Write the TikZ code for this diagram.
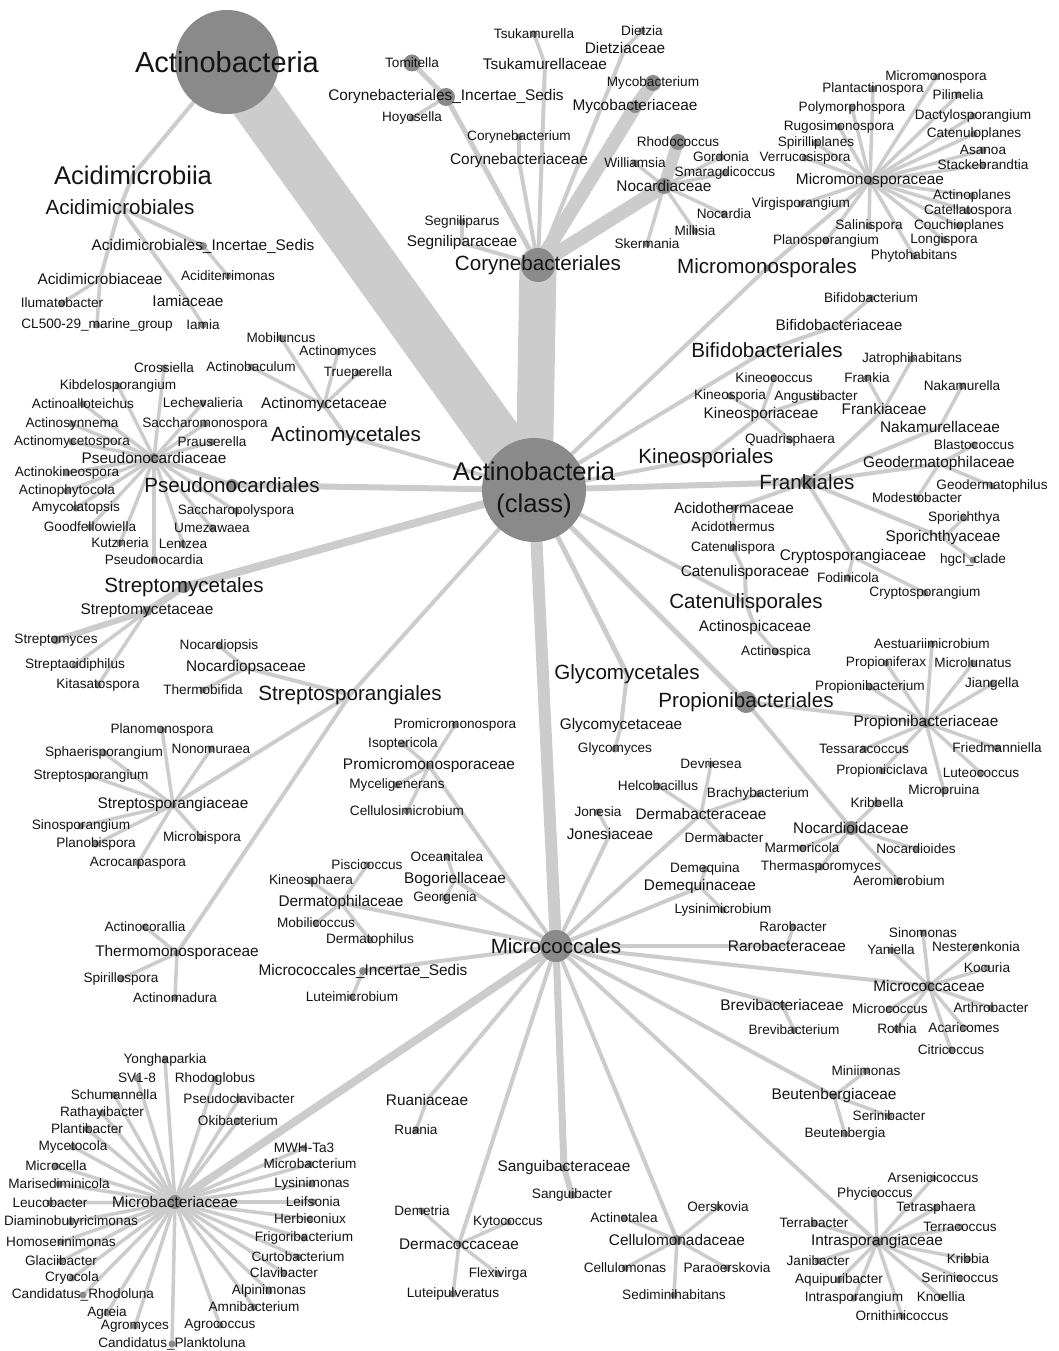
\documentclass[tikz,border=0pt]{standalone}
\usepackage{fontspec}
\setmainfont{Liberation Sans}
\definecolor{edgec}{RGB}{204,204,204}
\definecolor{dotc}{RGB}{138,138,138}
\definecolor{txtc}{RGB}{20,20,20}
\tikzset{
  lab/.style={inner sep=0pt, text=txtc, anchor=center},
  gen/.style={lab, font=\fontsize{13.6}{15}\selectfont},
  fam/.style={lab, font=\fontsize{15.4}{17}\selectfont},
  ord/.style={lab, font=\fontsize{20.6}{23}\selectfont},
  cls/.style={lab, font=\fontsize{25.6}{32.5}\selectfont, align=center},
  phy/.style={lab, font=\fontsize{29}{33}\selectfont},
  conn/.style={draw=edgec, line cap=round},
}
\newcommand\kids[3]{\foreach \k in {#3}{\draw[conn,line width=#1pt] (#2) -- (\k);}}
\newcommand\taxa{%
\txn{Phy}{227}{62}{52}{phy}{Actinobacteria}
\txn{Cls}{534}{490}{52}{cls}{Actinobacteria\\(class)}
\txn{Acdm}{133}{175}{0}{cls}{Acidimicrobiia}
\txn{Acdmales}{120}{207}{0}{ord}{Acidimicrobiales}
\txn{AIS}{203}{246}{4}{fam}{Acidimicrobiales\_Incertae\_Sedis}
\txn{Aciditerrimonas}{228}{276}{3.5}{gen}{Aciditerrimonas}
\txn{Acidimicrobiaceae}{100}{279}{0}{fam}{Acidimicrobiaceae}
\txn{Ilumatobacter}{62}{303}{3.5}{gen}{Ilumatobacter}
\txn{CLmarine}{97}{325}{3.5}{gen}{CL500-29\_marine\_group}
\txn{Iamiaceae}{188}{301}{0}{fam}{Iamiaceae}
\txn{Iamia}{203}{325}{3.5}{gen}{Iamia}
\txn{Corynebacteriales}{538}{265}{17}{ord}{Corynebacteriales}
\txn{CIS}{446}{97}{9}{fam}{Corynebacteriales\_Incertae\_Sedis}
\txn{Tomitella}{412}{63}{8.5}{gen}{Tomitella}
\txn{Hoyosella}{412}{118}{3.5}{gen}{Hoyosella}
\txn{Tsukamurellaceae}{545}{64}{0}{fam}{Tsukamurellaceae}
\txn{Tsukamurella}{534}{34}{3.5}{gen}{Tsukamurella}
\txn{Dietziaceae}{625}{48}{0}{fam}{Dietziaceae}
\txn{Dietzia}{642}{31}{3.5}{gen}{Dietzia}
\txn{Mycobacteriaceae}{635}{107}{6}{fam}{Mycobacteriaceae}
\txn{Mycobacterium}{653}{83}{8}{gen}{Mycobacterium}
\txn{Corynebacteriaceae}{519}{161}{0}{fam}{Corynebacteriaceae}
\txn{Corynebacterium}{519}{137}{3.5}{gen}{Corynebacterium}
\txn{Segniliparaceae}{462}{243}{0}{fam}{Segniliparaceae}
\txn{Segniliparus}{462}{222}{3.5}{gen}{Segniliparus}
\txn{Nocardiaceae}{664}{186}{8}{fam}{Nocardiaceae}
\txn{Rhodococcus}{678}{142}{8}{gen}{Rhodococcus}
\txn{Gordonia}{721}{157}{3.5}{gen}{Gordonia}
\txn{Smaragdicoccus}{725}{173}{3.5}{gen}{Smaragdicoccus}
\txn{Williamsia}{635}{163}{3.5}{gen}{Williamsia}
\txn{Nocardia}{724}{214}{3.5}{gen}{Nocardia}
\txn{Millisia}{695}{231}{3.5}{gen}{Millisia}
\txn{Skermania}{647}{244}{3.5}{gen}{Skermania}
\txn{Micromonosporales}{767}{268}{3.5}{ord}{Micromonosporales}
\txn{Micromonosporaceae}{870}{181}{4.5}{fam}{Micromonosporaceae}
\txn{Micromonospora}{936}{77}{3.5}{gen}{Micromonospora}
\txn{Plantactinospora}{873}{89}{3.5}{gen}{Plantactinospora}
\txn{Pilimelia}{958}{95}{3.5}{gen}{Pilimelia}
\txn{Polymorphospora}{852}{108}{3.5}{gen}{Polymorphospora}
\txn{Dactylosporangium}{973}{116}{3.5}{gen}{Dactylosporangium}
\txn{Rugosimonospora}{839}{127}{3.5}{gen}{Rugosimonospora}
\txn{Catenuloplanes}{974}{134}{3.5}{gen}{Catenuloplanes}
\txn{Spirilliplanes}{816}{143}{3.5}{gen}{Spirilliplanes}
\txn{Asanoa}{983}{150}{3.5}{gen}{Asanoa}
\txn{Verrucosispora}{805}{158}{3.5}{gen}{Verrucosispora}
\txn{Stackebrandtia}{983}{165}{3.5}{gen}{Stackebrandtia}
\txn{Actinoplanes}{972}{196}{3.5}{gen}{Actinoplanes}
\txn{Catellatospora}{968}{211}{3.5}{gen}{Catellatospora}
\txn{Virgisporangium}{801}{204}{3.5}{gen}{Virgisporangium}
\txn{Salinispora}{869}{226}{3.5}{gen}{Salinispora}
\txn{Couchioplanes}{959}{226}{3.5}{gen}{Couchioplanes}
\txn{Longispora}{944}{240}{3.5}{gen}{Longispora}
\txn{Planosporangium}{826}{241}{3.5}{gen}{Planosporangium}
\txn{Phytohabitans}{914}{256}{3.5}{gen}{Phytohabitans}
\txn{Bifidobacteriales}{767}{350}{0}{ord}{Bifidobacteriales}
\txn{Bifidobacteriaceae}{839}{325}{0}{fam}{Bifidobacteriaceae}
\txn{Bifidobacterium}{871}{298}{3.5}{gen}{Bifidobacterium}
\txn{Kineosporiales}{706}{458}{0}{ord}{Kineosporiales}
\txn{Kineosporiaceae}{761}{415}{0}{fam}{Kineosporiaceae}
\txn{Kineococcus}{774}{378}{3.5}{gen}{Kineococcus}
\txn{Kineosporia}{730}{396}{3.5}{gen}{Kineosporia}
\txn{Angustibacter}{816}{397}{3.5}{gen}{Angustibacter}
\txn{Quadrisphaera}{790}{440}{3.5}{gen}{Quadrisphaera}
\txn{Frankiales}{807}{482}{7}{ord}{Frankiales}
\txn{Frankiaceae}{884}{409}{0}{fam}{Frankiaceae}
\txn{Frankia}{867}{378}{3.5}{gen}{Frankia}
\txn{Jatrophihabitans}{912}{359}{3.5}{gen}{Jatrophihabitans}
\txn{Nakamurellaceae}{940}{427}{0}{fam}{Nakamurellaceae}
\txn{Nakamurella}{962}{386}{3.5}{gen}{Nakamurella}
\txn{Geodermatophilaceae}{939}{464}{0}{fam}{Geodermatophilaceae}
\txn{Blastococcus}{974}{445}{3.5}{gen}{Blastococcus}
\txn{Geodermatophilus}{992}{486}{3.5}{gen}{Geodermatophilus}
\txn{Modestobacter}{917}{498}{3.5}{gen}{Modestobacter}
\txn{Sporichthyaceae}{943}{538}{0}{fam}{Sporichthyaceae}
\txn{Sporichthya}{964}{518}{3.5}{gen}{Sporichthya}
\txn{hgcIclade}{973}{560}{3.5}{gen}{hgcI\_clade}
\txn{Cryptosporangiaceae}{853}{557}{0}{fam}{Cryptosporangiaceae}
\txn{Fodinicola}{848}{578}{3.5}{gen}{Fodinicola}
\txn{Cryptosporangium}{925}{593}{3.5}{gen}{Cryptosporangium}
\txn{Acidothermaceae}{734}{508}{3.5}{fam}{Acidothermaceae}
\txn{Acidothermus}{733}{527}{3.5}{gen}{Acidothermus}
\txn{Catenulisporales}{746}{603}{0}{ord}{Catenulisporales}
\txn{Catenulisporaceae}{745}{573}{0}{fam}{Catenulisporaceae}
\txn{Catenulispora}{733}{548}{3.5}{gen}{Catenulispora}
\txn{Actinospicaceae}{755}{628}{0}{fam}{Actinospicaceae}
\txn{Actinospica}{776}{652}{3.5}{gen}{Actinospica}
\txn{Propionibacteriales}{746}{702}{11}{ord}{Propionibacteriales}
\txn{Propionibacteriaceae}{926}{723}{5}{fam}{Propionibacteriaceae}
\txn{Propionibacterium}{870}{687}{3.5}{gen}{Propionibacterium}
\txn{Jiangella}{992}{684}{3.5}{gen}{Jiangella}
\txn{Aestuariimicrobium}{932}{644}{3.5}{gen}{Aestuariimicrobium}
\txn{Propioniferax}{886}{663}{3.5}{gen}{Propioniferax}
\txn{Microlunatus}{973}{663}{3.5}{gen}{Microlunatus}
\txn{Tessaracoccus}{864}{749}{3.5}{gen}{Tessaracoccus}
\txn{Friedmanniella}{997}{748}{3.5}{gen}{Friedmanniella}
\txn{Propioniciclava}{882}{771}{3.5}{gen}{Propioniciclava}
\txn{Luteococcus}{981}{773}{3.5}{gen}{Luteococcus}
\txn{Micropruina}{944}{791}{3.5}{gen}{Micropruina}
\txn{Nocardioidaceae}{851}{828}{7}{fam}{Nocardioidaceae}
\txn{Kribbella}{877}{803}{3.5}{gen}{Kribbella}
\txn{Marmoricola}{802}{848}{3.5}{gen}{Marmoricola}
\txn{Nocardioides}{916}{849}{3.5}{gen}{Nocardioides}
\txn{Thermasporomyces}{821}{867}{3.5}{gen}{Thermasporomyces}
\txn{Aeromicrobium}{899}{881}{4}{gen}{Aeromicrobium}
\txn{Glycomycetales}{627}{674}{0}{ord}{Glycomycetales}
\txn{Glycomycetaceae}{621}{726}{0}{fam}{Glycomycetaceae}
\txn{Glycomyces}{615}{749}{3.5}{gen}{Glycomyces}
\txn{Micrococcales}{556}{946}{16}{ord}{Micrococcales}
\txn{Promicromonosporaceae}{429}{766}{3.5}{fam}{Promicromonosporaceae}
\txn{Promicromonospora}{455}{725}{3.5}{gen}{Promicromonospora}
\txn{Isoptericola}{403}{744}{3.5}{gen}{Isoptericola}
\txn{Myceligenerans}{397}{785}{3.5}{gen}{Myceligenerans}
\txn{Cellulosimicrobium}{407}{811}{3.5}{gen}{Cellulosimicrobium}
\txn{Bogoriellaceae}{455}{880}{0}{fam}{Bogoriellaceae}
\txn{Oceanitalea}{447}{857}{3.5}{gen}{Oceanitalea}
\txn{Georgenia}{445}{898}{3.5}{gen}{Georgenia}
\txn{Dermatophilaceae}{341}{903}{0}{fam}{Dermatophilaceae}
\txn{Piscicoccus}{367}{865}{3.5}{gen}{Piscicoccus}
\txn{Kineosphaera}{311}{881}{3.5}{gen}{Kineosphaera}
\txn{Mobilicoccus}{316}{923}{3.5}{gen}{Mobilicoccus}
\txn{Dermatophilus}{370}{940}{3.5}{gen}{Dermatophilus}
\txn{MIS}{363}{971}{4}{fam}{Micrococcales\_Incertae\_Sedis}
\txn{Luteimicrobium}{352}{997}{3.5}{gen}{Luteimicrobium}
\txn{Ruaniaceae}{427}{1100}{0}{fam}{Ruaniaceae}
\txn{Ruania}{416}{1130}{3.5}{gen}{Ruania}
\txn{Dermacoccaceae}{459}{1244}{3.5}{fam}{Dermacoccaceae}
\txn{Demetria}{422}{1211}{3.5}{gen}{Demetria}
\txn{Kytococcus}{508}{1222}{3.5}{gen}{Kytococcus}
\txn{Flexivirga}{498}{1274}{3.5}{gen}{Flexivirga}
\txn{Luteipulveratus}{453}{1294}{3.5}{gen}{Luteipulveratus}
\txn{Sanguibacteraceae}{564}{1168}{3.5}{fam}{Sanguibacteraceae}
\txn{Sanguibacter}{572}{1195}{4}{gen}{Sanguibacter}
\txn{Cellulomonadaceae}{677}{1240}{5}{fam}{Cellulomonadaceae}
\txn{Actinotalea}{624}{1218}{3.5}{gen}{Actinotalea}
\txn{Oerskovia}{718}{1207}{3.5}{gen}{Oerskovia}
\txn{Cellulomonas}{625}{1268}{3.5}{gen}{Cellulomonas}
\txn{Paraoerskovia}{727}{1268}{3.5}{gen}{Paraoerskovia}
\txn{Sediminihabitans}{674}{1295}{3.5}{gen}{Sediminihabitans}
\txn{Intrasporangiaceae}{877}{1242}{5}{fam}{Intrasporangiaceae}
\txn{Arsenicicoccus}{933}{1178}{3.5}{gen}{Arsenicicoccus}
\txn{Phycicoccus}{875}{1194}{3.5}{gen}{Phycicoccus}
\txn{Tetrasphaera}{936}{1208}{3.5}{gen}{Tetrasphaera}
\txn{Terrabacter}{814}{1223}{3.5}{gen}{Terrabacter}
\txn{Terracoccus}{960}{1227}{3.5}{gen}{Terracoccus}
\txn{Kribbia}{968}{1259}{3.5}{gen}{Kribbia}
\txn{Janibacter}{818}{1261}{3.5}{gen}{Janibacter}
\txn{Serinicoccus}{960}{1278}{3.5}{gen}{Serinicoccus}
\txn{Aquipuribacter}{839}{1280}{3.5}{gen}{Aquipuribacter}
\txn{Intrasporangium}{854}{1298}{3.5}{gen}{Intrasporangium}
\txn{Knoellia}{941}{1297}{3.5}{gen}{Knoellia}
\txn{Ornithinicoccus}{902}{1316}{3.5}{gen}{Ornithinicoccus}
\txn{Beutenbergiaceae}{834}{1096}{3.5}{fam}{Beutenbergiaceae}
\txn{Miniimonas}{866}{1071}{3.5}{gen}{Miniimonas}
\txn{Serinibacter}{889}{1116}{3.5}{gen}{Serinibacter}
\txn{Beutenbergia}{845}{1134}{3.5}{gen}{Beutenbergia}
\txn{Brevibacteriaceae}{782}{1005}{3.5}{fam}{Brevibacteriaceae}
\txn{Brevibacterium}{794}{1030}{3.5}{gen}{Brevibacterium}
\txn{Micrococcaceae}{929}{986}{5}{fam}{Micrococcaceae}
\txn{Sinomonas}{923}{933}{3.5}{gen}{Sinomonas}
\txn{Yaniella}{891}{950}{3.5}{gen}{Yaniella}
\txn{Nesterenkonia}{976}{947}{3.5}{gen}{Nesterenkonia}
\txn{Kocuria}{987}{968}{3.5}{gen}{Kocuria}
\txn{Micrococcus}{890}{1009}{3.5}{gen}{Micrococcus}
\txn{Arthrobacter}{991}{1008}{3.5}{gen}{Arthrobacter}
\txn{Rothia}{897}{1029}{3.5}{gen}{Rothia}
\txn{Acaricomes}{964}{1028}{3.5}{gen}{Acaricomes}
\txn{Citricoccus}{951}{1050}{3.5}{gen}{Citricoccus}
\txn{Rarobacteraceae}{787}{946}{0}{fam}{Rarobacteraceae}
\txn{Rarobacter}{793}{927}{3.5}{gen}{Rarobacter}
\txn{Demequinaceae}{700}{887}{0}{fam}{Demequinaceae}
\txn{Demequina}{705}{869}{3.5}{gen}{Demequina}
\txn{Lysinimicrobium}{723}{910}{3.5}{gen}{Lysinimicrobium}
\txn{Dermabacteraceae}{701}{814}{0}{fam}{Dermabacteraceae}
\txn{Devriesea}{711}{764}{3.5}{gen}{Devriesea}
\txn{Helcobacillus}{658}{786}{3.5}{gen}{Helcobacillus}
\txn{Brachybacterium}{758}{794}{3.5}{gen}{Brachybacterium}
\txn{Dermabacter}{724}{838}{3.5}{gen}{Dermabacter}
\txn{Jonesiaceae}{610}{834}{0}{fam}{Jonesiaceae}
\txn{Jonesia}{598}{812}{3.5}{gen}{Jonesia}
\txn{Microbacteriaceae}{175}{1202}{7}{fam}{Microbacteriaceae}
\txn{Yonghaparkia}{165}{1060}{3.5}{gen}{Yonghaparkia}
\txn{SVoneeight}{137}{1078}{3.5}{gen}{SV1-8}
\txn{Rhodoglobus}{215}{1079}{3.5}{gen}{Rhodoglobus}
\txn{Schumannella}{114}{1095}{3.5}{gen}{Schumannella}
\txn{Pseudoclavibacter}{239}{1099}{3.5}{gen}{Pseudoclavibacter}
\txn{Rathayibacter}{102}{1113}{3.5}{gen}{Rathayibacter}
\txn{Plantibacter}{87}{1129}{3.5}{gen}{Plantibacter}
\txn{Okibacterium}{238}{1121}{3.5}{gen}{Okibacterium}
\txn{Mycetocola}{73}{1147}{3.5}{gen}{Mycetocola}
\txn{MWHTa}{304}{1148}{3.5}{gen}{MWH-Ta3}
\txn{Microbacterium}{310}{1164}{3.5}{gen}{Microbacterium}
\txn{Microcella}{56}{1166}{3.5}{gen}{Microcella}
\txn{Marisediminicola}{59}{1184}{3.5}{gen}{Marisediminicola}
\txn{Lysinimonas}{312}{1184}{3.5}{gen}{Lysinimonas}
\txn{Leucobacter}{50}{1203}{3.5}{gen}{Leucobacter}
\txn{Leifsonia}{313}{1202}{3.5}{gen}{Leifsonia}
\txn{Diaminobutyricimonas}{71}{1222}{3.5}{gen}{Diaminobutyricimonas}
\txn{Herbiconiux}{310}{1219}{3.5}{gen}{Herbiconiux}
\txn{Homoserinimonas}{61}{1242}{3.5}{gen}{Homoserinimonas}
\txn{Frigoribacterium}{304}{1238}{3.5}{gen}{Frigoribacterium}
\txn{Curtobacterium}{298}{1257}{3.5}{gen}{Curtobacterium}
\txn{Glaciibacter}{61}{1261}{3.5}{gen}{Glaciibacter}
\txn{Clavibacter}{284}{1273}{3.5}{gen}{Clavibacter}
\txn{Cryocola}{72}{1278}{3.5}{gen}{Cryocola}
\txn{Alpinimonas}{269}{1291}{3.5}{gen}{Alpinimonas}
\txn{CRhodoluna}{83}{1295}{3.5}{gen}{Candidatus\_Rhodoluna}
\txn{Amnibacterium}{254}{1307}{3.5}{gen}{Amnibacterium}
\txn{Agreia}{107}{1313}{3.5}{gen}{Agreia}
\txn{Agromyces}{135}{1326}{3.5}{gen}{Agromyces}
\txn{Agrococcus}{220}{1325}{3.5}{gen}{Agrococcus}
\txn{CPlanktoluna}{172}{1344}{3.5}{gen}{Candidatus\_Planktoluna}
\txn{Streptosporangiales}{350}{695}{0}{ord}{Streptosporangiales}
\txn{Nocardiopsaceae}{246}{668}{0}{fam}{Nocardiopsaceae}
\txn{Nocardiopsis}{219}{646}{3.5}{gen}{Nocardiopsis}
\txn{Thermobifida}{203}{690}{3.5}{gen}{Thermobifida}
\txn{Streptosporangiaceae}{173}{805}{3.5}{fam}{Streptosporangiaceae}
\txn{Planomonospora}{162}{730}{3.5}{gen}{Planomonospora}
\txn{Sphaerisporangium}{104}{753}{3.5}{gen}{Sphaerisporangium}
\txn{Nonomuraea}{211}{749}{3.5}{gen}{Nonomuraea}
\txn{Streptosporangium}{91}{776}{3.5}{gen}{Streptosporangium}
\txn{Sinosporangium}{81}{826}{3.5}{gen}{Sinosporangium}
\txn{Planobispora}{96}{844}{3.5}{gen}{Planobispora}
\txn{Microbispora}{202}{838}{3.5}{gen}{Microbispora}
\txn{Acrocarpaspora}{138}{863}{3.5}{gen}{Acrocarpaspora}
\txn{Thermomonosporaceae}{177}{953}{3.5}{fam}{Thermomonosporaceae}
\txn{Actinocorallia}{145}{927}{3.5}{gen}{Actinocorallia}
\txn{Spirillospora}{121}{979}{3.5}{gen}{Spirillospora}
\txn{Actinomadura}{175}{998}{3.5}{gen}{Actinomadura}
\txn{Streptomycetales}{184}{587}{6}{ord}{Streptomycetales}
\txn{Streptomycetaceae}{147}{611}{5}{fam}{Streptomycetaceae}
\txn{Streptomyces}{56}{640}{4.5}{gen}{Streptomyces}
\txn{Streptacidiphilus}{75}{665}{3.5}{gen}{Streptacidiphilus}
\txn{Kitasatospora}{98}{685}{3.5}{gen}{Kitasatospora}
\txn{Pseudonocardiales}{232}{485}{6}{ord}{Pseudonocardiales}
\txn{Pseudonocardiaceae}{154}{458}{5}{fam}{Pseudonocardiaceae}
\txn{Crossiella}{164}{368}{3.5}{gen}{Crossiella}
\txn{Kibdelosporangium}{118}{386}{3.5}{gen}{Kibdelosporangium}
\txn{Lechevalieria}{203}{403}{3.5}{gen}{Lechevalieria}
\txn{Actinoalloteichus}{83}{404}{3.5}{gen}{Actinoalloteichus}
\txn{Actinosynnema}{72}{424}{3.5}{gen}{Actinosynnema}
\txn{Saccharomonospora}{205}{424}{3.5}{gen}{Saccharomonospora}
\txn{Actinomycetospora}{72}{442}{3.5}{gen}{Actinomycetospora}
\txn{Prauserella}{212}{442}{3.5}{gen}{Prauserella}
\txn{Actinokineospora}{67}{473}{3.5}{gen}{Actinokineospora}
\txn{Actinophytocola}{67}{491}{3.5}{gen}{Actinophytocola}
\txn{Amycolatopsis}{76}{508}{3.5}{gen}{Amycolatopsis}
\txn{Saccharopolyspora}{236}{511}{3.5}{gen}{Saccharopolyspora}
\txn{Goodfellowiella}{90}{527}{3.5}{gen}{Goodfellowiella}
\txn{Umezawaea}{212}{528}{3.5}{gen}{Umezawaea}
\txn{Kutzneria}{120}{543}{3.5}{gen}{Kutzneria}
\txn{Lentzea}{183}{544}{3.5}{gen}{Lentzea}
\txn{Pseudonocardia}{154}{560}{3.5}{gen}{Pseudonocardia}
\txn{Actinomycetales}{346}{436}{0}{ord}{Actinomycetales}
\txn{Actinomycetaceae}{324}{405}{3.5}{fam}{Actinomycetaceae}
\txn{Mobiluncus}{281}{338}{3.5}{gen}{Mobiluncus}
\txn{Actinomyces}{338}{352}{3.5}{gen}{Actinomyces}
\txn{Actinobaculum}{251}{367}{3.5}{gen}{Actinobaculum}
\txn{Trueperella}{358}{373}{3.5}{gen}{Trueperella}
}
\begin{document}
\begin{tikzpicture}[x=1pt,y=-1pt]
\useasboundingbox (0,0) rectangle (1059,1351);
\fill[white] (0,0) rectangle (1059,1351);
% positions
\def\txn#1#2#3#4#5#6{\coordinate (#1) at (#2,#3);}
\taxa
% ================= connectors
\kids{50}{Phy}{Cls}
\kids{4}{Phy}{Acdm}
\kids{4}{Acdm}{Acdmales}
\kids{4}{Acdmales}{AIS,Acidimicrobiaceae,Iamiaceae}
\kids{3.5}{AIS}{Aciditerrimonas}
\kids{3.5}{Acidimicrobiaceae}{Ilumatobacter,CLmarine}
\kids{3.5}{Iamiaceae}{Iamia}
\kids{37}{Cls}{Corynebacteriales}
\kids{14}{Corynebacteriales}{Mycobacteriaceae,Nocardiaceae}
\kids{13}{Mycobacteriaceae}{Mycobacterium}
\kids{12}{Nocardiaceae}{Rhodococcus}
\kids{5}{Corynebacteriales}{CIS}
\kids{5}{CIS}{Tomitella}
\kids{3.5}{CIS}{Hoyosella}
\kids{4}{Corynebacteriales}{Tsukamurellaceae,Dietziaceae,Corynebacteriaceae,Segniliparaceae}
\kids{3.5}{Tsukamurellaceae}{Tsukamurella}
\kids{3.5}{Dietziaceae}{Dietzia}
\kids{3.5}{Corynebacteriaceae}{Corynebacterium}
\kids{3.5}{Segniliparaceae}{Segniliparus}
\kids{3.5}{Nocardiaceae}{Gordonia,Smaragdicoccus,Williamsia,Nocardia,Millisia,Skermania}
\kids{4}{Cls}{Micromonosporales,Bifidobacteriales,Kineosporiales,Catenulisporales,Actinomycetales,Streptosporangiales}
\kids{4}{Micromonosporales}{Micromonosporaceae}
\kids{3.5}{Micromonosporaceae}{Micromonospora,Plantactinospora,Pilimelia,Polymorphospora,Dactylosporangium,Rugosimonospora,Catenuloplanes,Spirilliplanes,Asanoa,Verrucosispora,Stackebrandtia,Actinoplanes,Catellatospora,Virgisporangium,Salinispora,Couchioplanes,Longispora,Planosporangium,Phytohabitans}
\kids{4}{Bifidobacteriales}{Bifidobacteriaceae}
\kids{3.5}{Bifidobacteriaceae}{Bifidobacterium}
\kids{4}{Kineosporiales}{Kineosporiaceae}
\kids{3.5}{Kineosporiaceae}{Kineococcus,Kineosporia,Angustibacter,Quadrisphaera}
\kids{6}{Cls}{Frankiales}
\kids{4}{Frankiales}{Frankiaceae,Nakamurellaceae,Geodermatophilaceae,Sporichthyaceae,Cryptosporangiaceae,Acidothermaceae}
\kids{3.5}{Frankiaceae}{Frankia,Jatrophihabitans}
\kids{3.5}{Nakamurellaceae}{Nakamurella}
\kids{3.5}{Geodermatophilaceae}{Blastococcus,Geodermatophilus,Modestobacter}
\kids{3.5}{Sporichthyaceae}{Sporichthya,hgcIclade}
\kids{3.5}{Cryptosporangiaceae}{Fodinicola,Cryptosporangium}
\kids{3.5}{Acidothermaceae}{Acidothermus}
\kids{4}{Catenulisporales}{Catenulisporaceae,Actinospicaceae}
\kids{3.5}{Catenulisporaceae}{Catenulispora}
\kids{3.5}{Actinospicaceae}{Actinospica}
\kids{5}{Cls}{Propionibacteriales,Glycomycetales}
\kids{4}{Propionibacteriales}{Propionibacteriaceae,Nocardioidaceae}
\kids{3.5}{Propionibacteriaceae}{Propionibacterium,Jiangella,Aestuariimicrobium,Propioniferax,Microlunatus,Tessaracoccus,Friedmanniella,Propioniciclava,Luteococcus,Micropruina}
\kids{3.5}{Nocardioidaceae}{Kribbella,Marmoricola,Nocardioides,Thermasporomyces,Aeromicrobium}
\kids{4}{Glycomycetales}{Glycomycetaceae}
\kids{3.5}{Glycomycetaceae}{Glycomyces}
\kids{12}{Cls}{Micrococcales}
\kids{8}{Micrococcales}{Microbacteriaceae}
\kids{7}{Micrococcales}{Sanguibacteraceae}
\kids{6}{Sanguibacteraceae}{Sanguibacter}
\kids{4}{Micrococcales}{Promicromonosporaceae,Bogoriellaceae,Dermatophilaceae,MIS,Ruaniaceae,Dermacoccaceae,Cellulomonadaceae,Intrasporangiaceae,Beutenbergiaceae,Brevibacteriaceae,Micrococcaceae,Rarobacteraceae,Demequinaceae,Dermabacteraceae,Jonesiaceae}
\kids{3.5}{Promicromonosporaceae}{Promicromonospora,Isoptericola,Myceligenerans,Cellulosimicrobium}
\kids{3.5}{Bogoriellaceae}{Oceanitalea,Georgenia}
\kids{3.5}{Dermatophilaceae}{Piscicoccus,Kineosphaera,Mobilicoccus,Dermatophilus}
\kids{3.5}{MIS}{Luteimicrobium}
\kids{3.5}{Ruaniaceae}{Ruania}
\kids{3.5}{Dermacoccaceae}{Demetria,Kytococcus,Flexivirga,Luteipulveratus}
\kids{3.5}{Cellulomonadaceae}{Actinotalea,Oerskovia,Cellulomonas,Paraoerskovia,Sediminihabitans}
\kids{3.5}{Intrasporangiaceae}{Arsenicicoccus,Phycicoccus,Tetrasphaera,Terrabacter,Terracoccus,Kribbia,Janibacter,Serinicoccus,Aquipuribacter,Intrasporangium,Knoellia,Ornithinicoccus}
\kids{3.5}{Beutenbergiaceae}{Miniimonas,Serinibacter,Beutenbergia}
\kids{3.5}{Brevibacteriaceae}{Brevibacterium}
\kids{3.5}{Micrococcaceae}{Sinomonas,Yaniella,Nesterenkonia,Kocuria,Micrococcus,Arthrobacter,Rothia,Acaricomes,Citricoccus}
\kids{3.5}{Rarobacteraceae}{Rarobacter}
\kids{3.5}{Demequinaceae}{Demequina,Lysinimicrobium}
\kids{3.5}{Dermabacteraceae}{Devriesea,Helcobacillus,Brachybacterium,Dermabacter}
\kids{3.5}{Jonesiaceae}{Jonesia}
\kids{3.5}{Microbacteriaceae}{Yonghaparkia,SVoneeight,Rhodoglobus,Schumannella,Pseudoclavibacter,Rathayibacter,Plantibacter,Okibacterium,Mycetocola,MWHTa,Microbacterium,Microcella,Marisediminicola,Lysinimonas,Leucobacter,Leifsonia,Diaminobutyricimonas,Herbiconiux,Homoserinimonas,Frigoribacterium,Curtobacterium,Glaciibacter,Clavibacter,Cryocola,Alpinimonas,CRhodoluna,Amnibacterium,Agreia,Agromyces,Agrococcus,CPlanktoluna}
\kids{4}{Streptosporangiales}{Nocardiopsaceae,Streptosporangiaceae,Thermomonosporaceae}
\kids{3.5}{Nocardiopsaceae}{Nocardiopsis,Thermobifida}
\kids{3.5}{Streptosporangiaceae}{Planomonospora,Sphaerisporangium,Nonomuraea,Streptosporangium,Sinosporangium,Planobispora,Microbispora,Acrocarpaspora}
\kids{3.5}{Thermomonosporaceae}{Actinocorallia,Spirillospora,Actinomadura}
\kids{8}{Cls}{Streptomycetales}
\kids{7}{Streptomycetales}{Streptomycetaceae}
\kids{6}{Streptomycetaceae}{Streptomyces}
\kids{3.5}{Streptomycetaceae}{Streptacidiphilus,Kitasatospora}
\kids{6}{Cls}{Pseudonocardiales}
\kids{5}{Pseudonocardiales}{Pseudonocardiaceae}
\kids{3.5}{Pseudonocardiaceae}{Crossiella,Kibdelosporangium,Lechevalieria,Actinoalloteichus,Actinosynnema,Saccharomonospora,Actinomycetospora,Prauserella,Actinokineospora,Actinophytocola,Amycolatopsis,Saccharopolyspora,Goodfellowiella,Umezawaea,Kutzneria,Lentzea,Pseudonocardia}
\kids{4}{Actinomycetales}{Actinomycetaceae}
\kids{3.5}{Actinomycetaceae}{Mobiluncus,Actinomyces,Actinobaculum,Trueperella}
% dots
\def\txn#1#2#3#4#5#6{\fill[dotc] (#1) circle (#4pt);}
\taxa
% labels
\def\txn#1#2#3#4#5#6{\node[#5] (#1-t) at (#1) {#6};}
\taxa
\end{tikzpicture}
\end{document}
